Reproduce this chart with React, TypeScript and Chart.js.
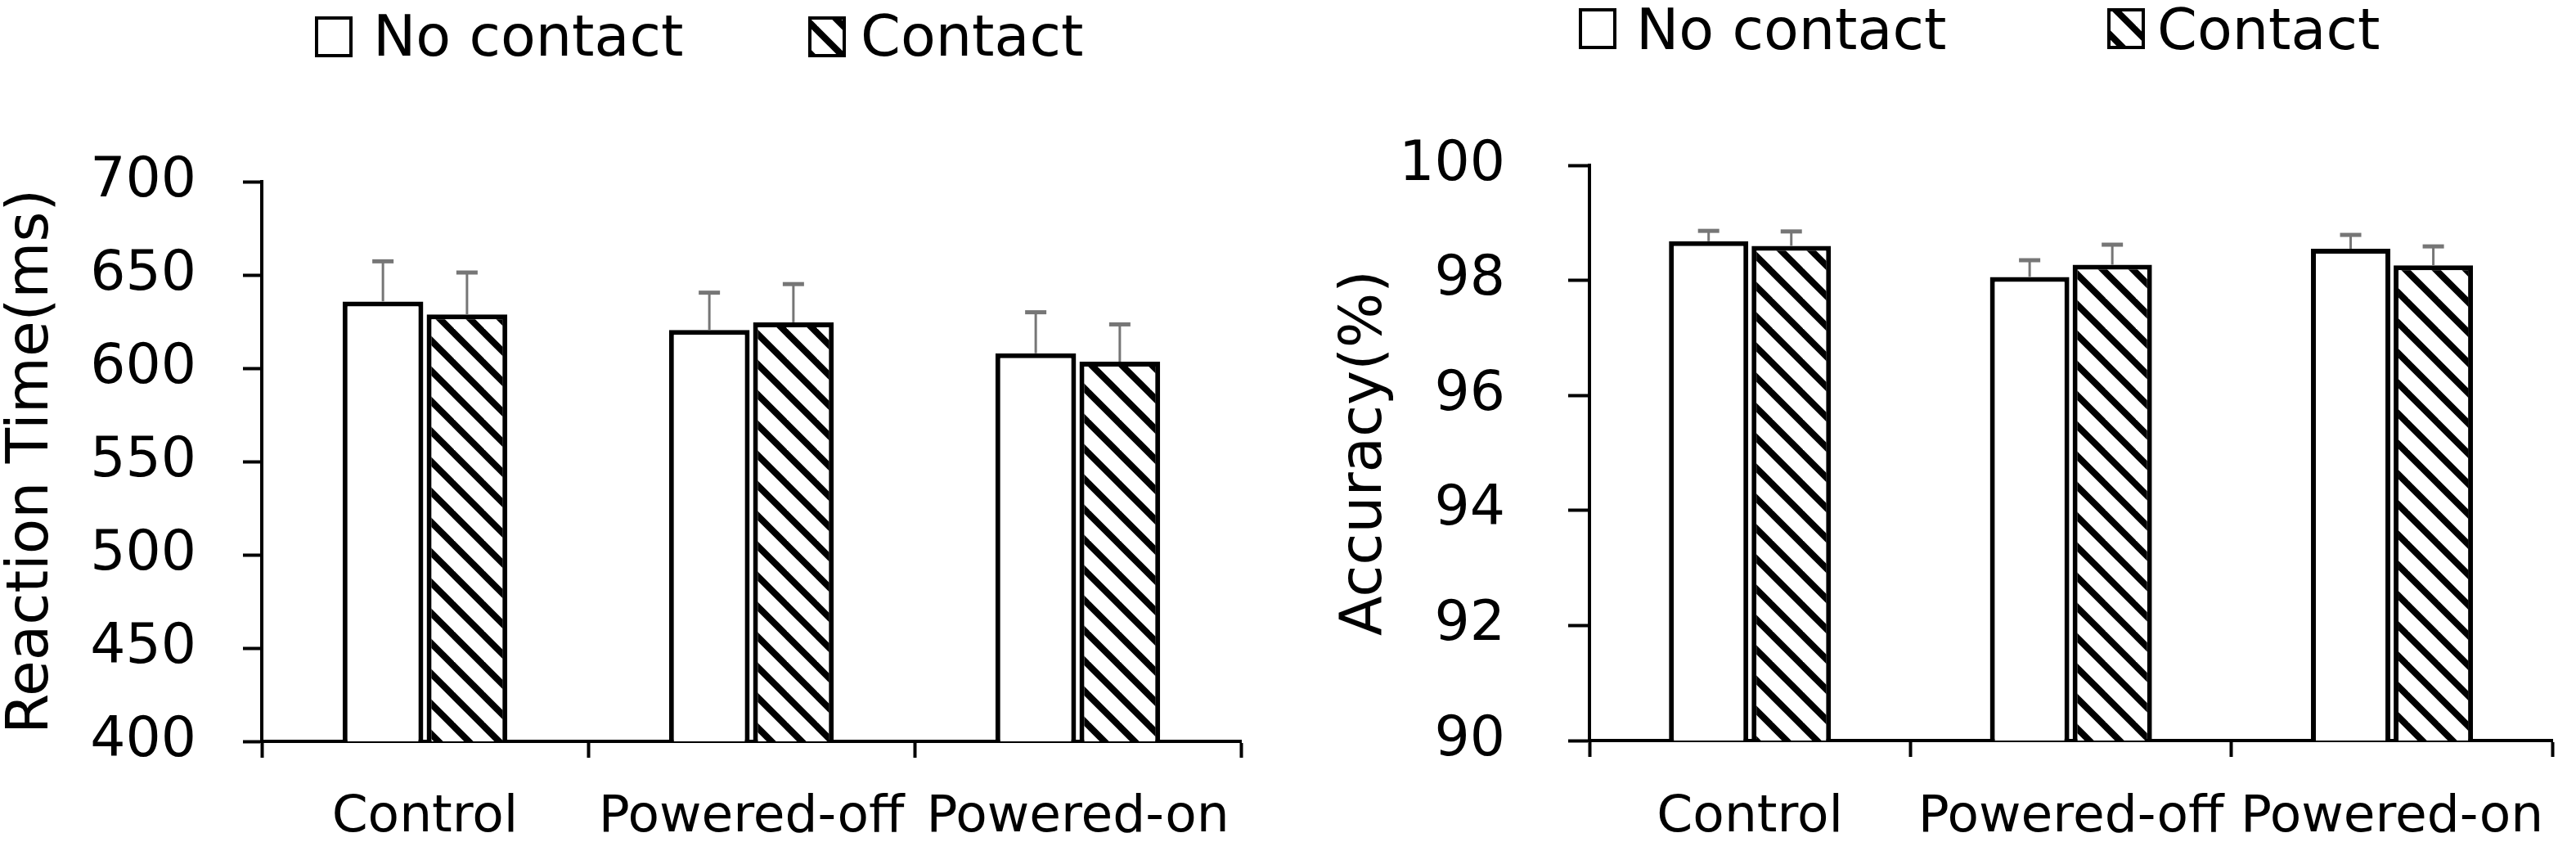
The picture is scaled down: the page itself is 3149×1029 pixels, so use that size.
import { useEffect, useRef } from 'react';
import { Chart, registerables } from 'chart.js';

Chart.register(...registerables);

// categories and series
const conditions = ['Control', 'Powered-off', 'Powered-on'];
const seriesNames = ['No contact', 'Contact'];

// reaction time (ms), mean and SE
const rtNoContact = [635.8, 620.5, 608];
const rtContact = [628.8, 624.6, 603.5];
const rtNoContactErr = [21.5, 20, 22];
const rtContactErr = [22.5, 20.5, 20];
const rtTicks = [400, 700, 50];

// accuracy (%), mean and SE
const accNoContact = [98.68, 98.06, 98.55];
const accContact = [98.6, 98.27, 98.26];
const accNoContactErr = [0.18, 0.29, 0.24];
const accContactErr = [0.25, 0.35, 0.33];
const accTicks = [90, 100, 2];

const FONT = '"DejaVu Sans", sans-serif';
const H = 1029;

type Panel = {
  x: number;
  width: number;
  noContact: number[];
  contact: number[];
  noContactErr: number[];
  contactErr: number[];
  ticks: number[];
  yTitle: string;
  areaTop: number;
  areaBottom: number;
  areaLeft: number;
  areaRight: number;
  tickLen: number;
  tickPad: number;
  titleX: number;
  labelPad: number;
  legendTop: number;
  legendBaseline: number;
  legendBoxX: number[];
  legendTextX: number[];
};

const panels: Panel[] = [
  {
    x: 0, width: 1575,
    noContact: rtNoContact, contact: rtContact,
    noContactErr: rtNoContactErr, contactErr: rtContactErr,
    ticks: rtTicks, yTitle: 'Reaction Time(ms)',
    areaTop: 222, areaBottom: 906, areaLeft: 320, areaRight: 1517,
    tickLen: 23, tickPad: 57, titleX: 40, labelPad: 36,
    legendTop: 20, legendBaseline: 68,
    legendBoxX: [385, 988], legendTextX: [456, 1052],
  },
  {
    x: 1575, width: 1574,
    noContact: accNoContact, contact: accContact,
    noContactErr: accNoContactErr, contactErr: accContactErr,
    ticks: accTicks, yTitle: 'Accuracy(%)',
    areaTop: 202, areaBottom: 905, areaLeft: 368, areaRight: 1557,
    tickLen: 26, tickPad: 77, titleX: 95, labelPad: 37,
    legendTop: 10, legendBaseline: 60,
    legendBoxX: [355, 1001], legendTextX: [425, 1062],
  },
];

function makeHatch(): CanvasPattern {
  const s = 37;
  const c = document.createElement('canvas');
  c.width = s;
  c.height = s;
  const g = c.getContext('2d')!;
  g.fillStyle = '#fff';
  g.fillRect(0, 0, s, s);
  g.strokeStyle = '#000';
  g.lineWidth = 8;
  // "\" stripes, drawn past the tile edges so they join without seams
  for (const k of [-1, 0, 1]) {
    g.beginPath();
    g.moveTo(k * s - s, -s);
    g.lineTo(k * s + 2 * s, 2 * s);
    g.stroke();
  }
  return g.createPattern(c, 'repeat')!;
}

// gray one-sided error bars on top of each bar
const errorBars = (errs: number[][]) => ({
  id: 'errorBars',
  afterDatasetsDraw(chart: any) {
    const { ctx } = chart;
    const y = chart.scales.y;
    ctx.save();
    ctx.strokeStyle = '#767676';
    chart.data.datasets.forEach((ds: any, i: number) => {
      chart.getDatasetMeta(i).data.forEach((bar: any, j: number) => {
        const top = y.getPixelForValue(ds.data[j] + errs[i][j]);
        ctx.lineWidth = 3;
        ctx.beginPath();
        ctx.moveTo(bar.x, bar.y);
        ctx.lineTo(bar.x, top);
        ctx.stroke();
        ctx.lineWidth = 5;
        ctx.beginPath();
        ctx.moveTo(bar.x - 13, top);
        ctx.lineTo(bar.x + 13, top);
        ctx.stroke();
      });
    });
    ctx.restore();
  },
});

// legend placed like in the figure
const pairLegend = (p: Panel) => ({
  id: 'pairLegend',
  afterDraw(chart: any) {
    const { ctx } = chart;
    ctx.save();
    ctx.font = `70px ${FONT}`;
    ctx.textBaseline = 'alphabetic';
    chart.data.datasets.forEach((ds: any, i: number) => {
      const bx = p.legendBoxX[i];
      ctx.fillStyle = ds.backgroundColor;
      ctx.fillRect(bx, p.legendTop, 46, 50);
      ctx.lineWidth = 4;
      ctx.strokeStyle = '#000';
      ctx.strokeRect(bx + 2, p.legendTop + 2, 42, 46);
      ctx.fillStyle = '#000';
      ctx.fillText(ds.label, p.legendTextX[i], p.legendBaseline);
    });
    ctx.restore();
  },
});

const BarPanel = ({ p }: { p: Panel }) => {
  const chartRef = useRef<HTMLCanvasElement>(null);
  const chartInstanceRef = useRef<Chart | null>(null);

  useEffect(() => {
    if (!chartRef.current) return;
    if (chartInstanceRef.current) chartInstanceRef.current.destroy();

    const hatch = makeHatch();
    const [yMin, yMax, yStep] = p.ticks;
    const barStyle = {
      borderColor: '#000',
      borderWidth: 6,
      categoryPercentage: 0.515,
      barPercentage: 0.96,
    };

    chartInstanceRef.current = new Chart(chartRef.current, {
      type: 'bar',
      data: {
        labels: conditions,
        datasets: [
          { label: seriesNames[0], data: p.noContact, backgroundColor: '#fff', ...barStyle },
          { label: seriesNames[1], data: p.contact, backgroundColor: hatch as any, ...barStyle },
        ],
      },
      options: {
        animation: false,
        responsive: false,
        devicePixelRatio: 1,
        layout: { padding: { left: 0, top: p.areaTop, right: p.width - p.areaRight, bottom: 0 } },
        plugins: { legend: { display: false }, tooltip: { enabled: false } },
        scales: {
          x: {
            grid: { drawOnChartArea: false, tickLength: 20, tickWidth: 4, tickColor: '#000', offset: true },
            border: { color: '#000', width: 4 },
            ticks: { color: '#000', font: { family: FONT, size: 63 }, padding: p.labelPad, autoSkip: false, maxRotation: 0 },
            afterFit: (s: any) => { s.height = H - p.areaBottom; },
          },
          y: {
            min: yMin,
            max: yMax,
            ticks: { stepSize: yStep, color: '#000', font: { family: FONT, size: 68 }, padding: p.tickPad },
            grid: { drawOnChartArea: false, tickLength: p.tickLen, tickWidth: 4, tickColor: '#000' },
            border: { color: '#000', width: 4 },
            title: {
              display: true,
              text: p.yTitle,
              color: '#000',
              font: { family: FONT, size: 71, lineHeight: 1 },
              padding: { top: p.titleX - 35.5, bottom: 0 },
            },
            afterFit: (s: any) => { s.width = p.areaLeft; },
          },
        },
      },
      plugins: [errorBars([p.noContactErr, p.contactErr]), pairLegend(p)],
    });

    return () => {
      if (chartInstanceRef.current) {
        chartInstanceRef.current.destroy();
        chartInstanceRef.current = null;
      }
    };
  }, [p]);

  return (
    <canvas
      ref={chartRef}
      width={p.width}
      height={H}
      style={{ position: 'absolute', left: p.x, top: 0, width: p.width, height: H }}
    />
  );
};

export default function App() {
  return (
    <div style={{ position: 'absolute', left: 0, top: 0, width: 3149, height: H, background: '#fff', overflow: 'hidden' }}>
      {panels.map((p) => (
        <BarPanel key={p.yTitle} p={p} />
      ))}
    </div>
  );
}
